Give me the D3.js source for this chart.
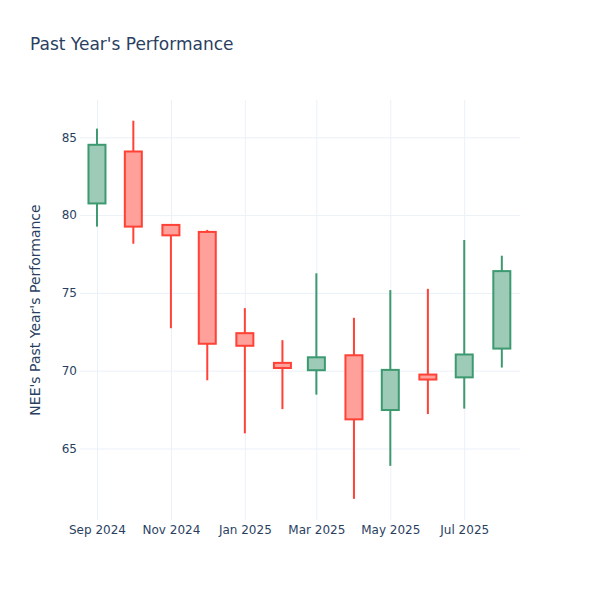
<!DOCTYPE html>
<html lang="en">
<head>
  <meta charset="utf-8">
  <title>Past Year's Performance</title>
  <script src="https://d3js.org/d3.v7.min.js"></script>
  <style>
    body { margin: 0; background: #fff; }
    text { font-family: "DejaVu Sans", Verdana, sans-serif; fill: #2a3f5f; }
  </style>
</head>
<body>
<script>
// monthly candles
var months = ["2024-09-01", "2024-10-01", "2024-11-01", "2024-12-01", "2025-01-01", "2025-02-01",
              "2025-03-01", "2025-04-01", "2025-05-01", "2025-06-01", "2025-07-01", "2025-08-01"];
var opens  = [80.75, 84.09, 79.37, 78.92, 72.41, 70.50, 70.03, 70.99, 67.47, 69.75, 69.57, 71.42];
var highs  = [85.56, 86.07, 79.37, 79.05, 74.02, 71.96, 76.26, 73.40, 75.18, 75.26, 78.40, 77.39];
var lows   = [79.26, 78.16, 72.73, 69.38, 65.97, 67.53, 68.46, 61.76, 63.88, 67.21, 67.56, 70.20];
var closes = [84.52, 79.26, 78.70, 71.73, 71.60, 70.17, 70.86, 66.87, 70.05, 69.43, 71.04, 76.40];
var yTicks = [65, 70, 75, 80, 85];

var w = 600, h = 600;
var margin = {top: 100, right: 80, bottom: 80, left: 80};
var parse = d3.timeParse("%Y-%m-%d");

var data = months.map(function(m, i) {
  return {date: parse(m), open: opens[i], high: highs[i], low: lows[i], close: closes[i]};
});

var svg = d3.select("body").append("svg")
  .attr("width", w)
  .attr("height", h);

var x = d3.scaleTime()
  .domain([parse("2024-08-18"), parse("2025-08-16")])
  .range([margin.left, w - margin.right]);

var y = d3.scaleLinear()
  .domain([60.4, 87.4])
  .range([h - margin.bottom, margin.top]);

// grid + tick labels
svg.append("g")
  .attr("transform", "translate(0," + (h - margin.bottom) + ")")
  .call(d3.axisBottom(x)
    .ticks(d3.timeMonth.every(2))
    .tickFormat(d3.timeFormat("%b %Y"))
    .tickSize(-(h - margin.top - margin.bottom))
    .tickPadding(5));

svg.append("g")
  .attr("transform", "translate(" + margin.left + ",0)")
  .call(d3.axisLeft(y)
    .tickValues(yTicks)
    .tickSize(-(w - margin.left - margin.right))
    .tickPadding(3));

svg.selectAll(".domain").remove();
svg.selectAll(".tick line").attr("stroke", "#ebf0f8").attr("stroke-width", 1);
svg.selectAll(".tick text").attr("font-size", "12px").style("fill", "#2a3f5f");

// candles
var boxW = 17;
var green = "#3d9970", red = "#ff4136";

var candle = svg.append("g").selectAll("g")
  .data(data)
  .enter()
  .append("g");

candle.append("line")
  .attr("x1", function(d) { return x(d.date); })
  .attr("x2", function(d) { return x(d.date); })
  .attr("y1", function(d) { return y(d.high); })
  .attr("y2", function(d) { return y(d.low); })
  .attr("stroke", function(d) { return d.close >= d.open ? green : red; })
  .attr("stroke-width", 2);

candle.append("rect")
  .attr("x", function(d) { return x(d.date) - boxW / 2; })
  .attr("y", function(d) { return y(Math.max(d.open, d.close)); })
  .attr("width", boxW)
  .attr("height", function(d) { return Math.max(1, Math.abs(y(d.open) - y(d.close))); })
  .attr("fill", function(d) { return d.close >= d.open ? "#9ecbb7" : "#ffa09a"; })
  .attr("stroke", function(d) { return d.close >= d.open ? green : red; })
  .attr("stroke-width", 2);

// titles
svg.append("text")
  .attr("x", 30)
  .attr("y", 50)
  .attr("font-size", "17px")
  .text("Past Year's Performance");

svg.append("text")
  .attr("text-anchor", "middle")
  .attr("font-size", "14px")
  .attr("transform", "translate(40," + ((margin.top + h - margin.bottom) / 2) + ") rotate(-90)")
  .text("NEE's Past Year's Performance");
</script>
</body>
</html>
